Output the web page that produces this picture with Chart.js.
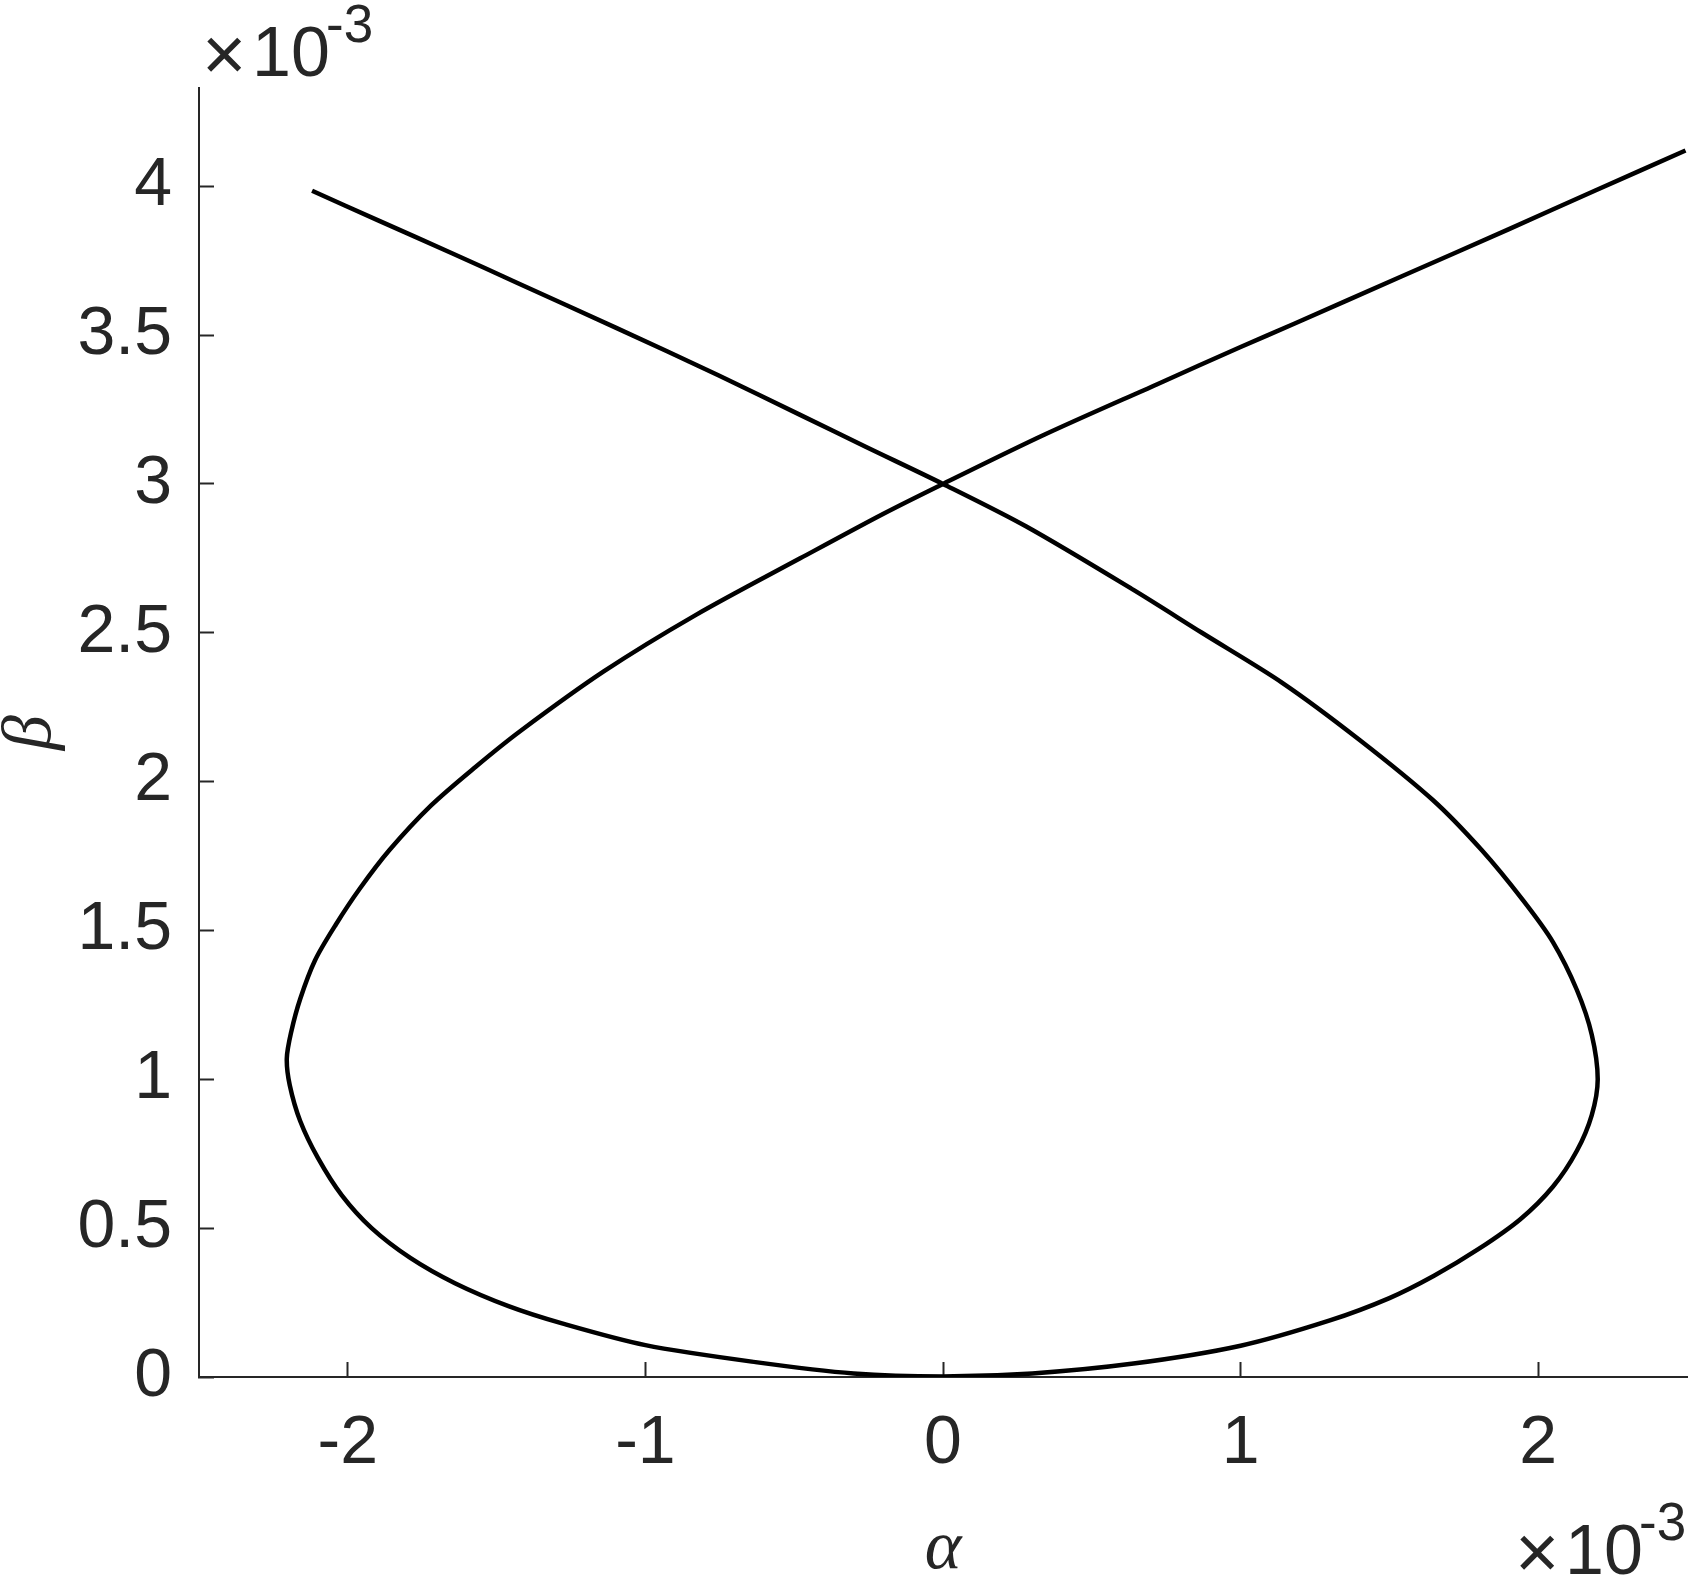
<!DOCTYPE html>
<html>
<head>
<meta charset="utf-8">
<script src="https://cdn.jsdelivr.net/npm/chart.js@4.4.0/dist/chart.umd.min.js"></script>
<style>
    html, body { margin: 0; padding: 0; background: #fff; }
    canvas { display: block; }
</style>
</head>
<body>
<canvas id="phaseChart" width="1689" height="1576"></canvas>
<script>
// Trajectory in the (alpha, beta) plane, both in units of 1e-3
const alpha = [
    -2.12, -1.90, -1.65, -1.43, -1.10, -0.755, -0.48, -0.26, 0,
    0.28, 0.64, 0.87, 1.14, 1.40, 1.645, 1.81, 1.95, 2.05, 2.13, 2.18, 2.20,
    2.18, 2.13, 2.05, 1.94, 1.80, 1.65, 1.50, 1.30, 1.00, 0.64, 0.30, 0,
    -0.30, -0.63, -1.00, -1.28, -1.46, -1.64, -1.79, -1.92, -2.02, -2.10, -2.16, -2.195,
    -2.205, -2.19, -2.16, -2.11, -2.04, -1.96, -1.86, -1.72, -1.57, -1.42, -1.14, -0.83, -0.48, -0.20, 0,
    0.34, 0.72, 1.00, 1.18, 1.54, 1.90, 2.19, 2.495
];
const beta = [
    3.985, 3.886, 3.775, 3.675, 3.525, 3.365, 3.232, 3.125, 3.0,
    2.857, 2.644, 2.50, 2.332, 2.14, 1.939, 1.77, 1.60, 1.46, 1.30, 1.15, 1.00,
    0.88, 0.76, 0.64, 0.53, 0.43, 0.34, 0.265, 0.19, 0.105, 0.045, 0.012, 0.002,
    0.012, 0.05, 0.107, 0.18, 0.238, 0.315, 0.40, 0.50, 0.61, 0.735, 0.86, 0.98,
    1.07, 1.16, 1.27, 1.40, 1.52, 1.64, 1.77, 1.92, 2.05, 2.17, 2.37, 2.56, 2.75, 2.90, 3.0,
    3.165, 3.335, 3.46, 3.538, 3.697, 3.855, 3.985, 4.12
];

// Axes
const xTicks = [-2, -1, 0, 1, 2];
const yTicks = [0, 0.5, 1, 1.5, 2, 2.5, 3, 3.5, 4];
const xLimits = [-2.5, 2.5];
const yLimits = [0, 4.33];
const xTitle = '\u03b1';
const yTitle = '\u03b2';
const exponentBase = '\u00d710';
const exponentPower = '-3';

const axisColor = '#262626';
const tickFont = { family: '"Liberation Sans", Arial, sans-serif', size: 68 };
const titleFont = { family: '"Liberation Serif", "Times New Roman", serif', size: 70, style: 'italic', lineHeight: 0.75 };

// "x10^-3" multiplier labels, MATLAB style
function drawExponent(ctx, x, y) {
    ctx.save();
    ctx.fillStyle = axisColor;
    ctx.textAlign = 'left';
    ctx.textBaseline = 'alphabetic';
    ctx.font = '76px "Liberation Sans", Arial, sans-serif';
    ctx.fillText(exponentBase.charAt(0), x - 2, y + 4);
    ctx.font = '70px "Liberation Sans", Arial, sans-serif';
    ctx.fillText(exponentBase.slice(1), x + 48, y);
    ctx.font = '53px "Liberation Sans", Arial, sans-serif';
    ctx.fillText(exponentPower, x + 122, y - 34);
    ctx.restore();
}

const exponentLabels = {
    id: 'exponentLabels',
    afterDraw(chart) {
        const area = chart.chartArea;
        drawExponent(chart.ctx, area.left + 5, area.top - 12);
        drawExponent(chart.ctx, area.right - 170, chart.height - 2);
    }
};

const points = alpha.map((a, i) => ({ x: a, y: beta[i] }));

const ctx = document.getElementById('phaseChart').getContext('2d');
const chart = new Chart(ctx, {
    type: 'scatter',
    data: {
        datasets: [{
            data: points,
            showLine: true,
            borderColor: '#000000',
            borderWidth: 4.5,
            pointRadius: 0,
            tension: 0.3,
            fill: false
        }]
    },
    options: {
        responsive: false,
        animation: false,
        devicePixelRatio: 1,
        layout: {
            padding: { top: 88, left: 0, right: 2, bottom: 0 }
        },
        plugins: {
            legend: { display: false },
            tooltip: { enabled: false }
        },
        scales: {
            x: {
                type: 'linear',
                position: 'bottom',
                min: xLimits[0],
                max: xLimits[1],
                afterBuildTicks: (scale) => { scale.ticks = xTicks.map(v => ({ value: v })); },
                afterFit: (scale) => { scale.height = 199; },
                grid: {
                    drawOnChartArea: false,
                    drawTicks: true,
                    tickLength: -15,
                    tickWidth: 2,
                    tickColor: axisColor
                },
                border: { display: true, color: axisColor, width: 2 },
                ticks: {
                    color: axisColor,
                    font: tickFont,
                    padding: 41,
                    maxRotation: 0,
                    callback: (v) => String(v)
                },
                title: {
                    display: true,
                    text: xTitle,
                    color: axisColor,
                    font: titleFont,
                    padding: 0
                }
            },
            y: {
                type: 'linear',
                position: 'left',
                min: yLimits[0],
                max: yLimits[1],
                afterBuildTicks: (scale) => { scale.ticks = yTicks.map(v => ({ value: v })); },
                afterFit: (scale) => { scale.width = 199; },
                grid: {
                    drawOnChartArea: false,
                    drawTicks: true,
                    tickLength: -15,
                    tickWidth: 2,
                    tickColor: axisColor
                },
                border: { display: true, color: axisColor, width: 2 },
                ticks: {
                    color: axisColor,
                    font: tickFont,
                    padding: 42,
                    callback: (v) => String(v)
                },
                title: {
                    display: true,
                    text: yTitle,
                    color: axisColor,
                    font: titleFont,
                    padding: { top: 5, bottom: 0 }
                }
            }
        }
    },
    plugins: [exponentLabels]
});
</script>
</body>
</html>
